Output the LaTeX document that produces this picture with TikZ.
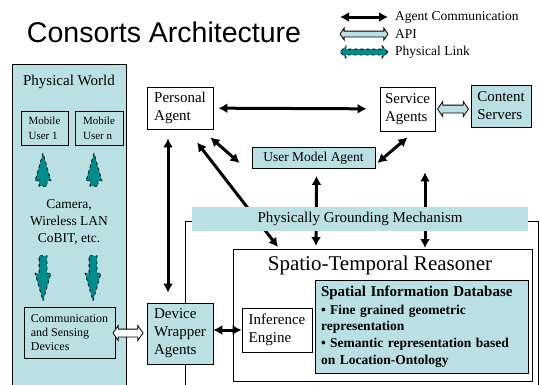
\documentclass[tikz,border=0pt]{standalone}
\usepackage{fontspec}
\setmainfont{Liberation Serif}
\newfontfamily\headfont{Liberation Sans}
\usetikzlibrary{
  calc,positioning,
  arrows.meta,shapes.arrows
}

\definecolor{paleteal}{RGB}{186,224,228}
\definecolor{linkteal}{RGB}{0,140,140}

\tikzset{
  box/.style={draw,fill=white,line width=0.8pt,align=left,inner sep=2pt,
    font=\fontsize{15}{18}\selectfont},
  tealbox/.style={box,fill=paleteal},
  legend/.style={anchor=west,inner sep=0pt,font=\fontsize{13.5}{16}\selectfont},
  agentlink/.style={line width=3pt,{Latex[length=9pt,width=10pt]}-{Latex[length=9pt,width=10pt]}},
  apilink/.style={double arrow,draw,fill=white,line width=0.8pt,inner sep=3.5pt,
    double arrow head extend=3.5pt,double arrow tip angle=110},
  physlink/.style={single arrow,draw,dashed,fill=linkteal,line width=0.8pt,
    inner sep=3.5pt,single arrow head extend=4pt,single arrow tip angle=32,
    minimum height=#1},
}

\begin{document}
\begin{tikzpicture}[x=1pt,y=-1pt]
\useasboundingbox (0,0) rectangle (540,384);

% heading and key
\node[font=\headfont\fontsize{28.5}{32}\selectfont] (title) at (164,32) {Consorts Architecture};
\coordinate (keyA) at (340,17);
\coordinate (keyB) at (388,17);
\draw[agentlink] (keyA) -- (keyB);
\node[legend] (keycomm) at (395,17) {Agent Communication};
\node[apilink,fill=paleteal,inner sep=2.5pt,double arrow head extend=3pt,
  minimum height=48pt] (keyapi) at (364,34) {};
\node[legend] (keyapitext) at (395,34) {API};
\node[double arrow,draw,dashed,fill=linkteal,line width=0.8pt,inner sep=2.5pt,
  double arrow head extend=3pt,minimum height=48pt] (keyphys) at (364,52) {};
\node[legend] (keyphystext) at (395,52) {Physical Link};

% physical world
\node[tealbox,minimum width=114pt,minimum height=330pt,anchor=north west] (world) at (12,64) {};
\node[font=\fontsize{15}{18}\selectfont] (worldtitle) at (69,82) {Physical World};
\node[tealbox,font=\fontsize{11}{15}\selectfont,minimum width=47pt,minimum height=34pt] (user1) at (44.5,128) {Mobile\\User 1};
\node[tealbox,font=\fontsize{11}{15}\selectfont,minimum width=48pt,minimum height=34pt] (usern) at (99,128) {Mobile\\User n};
\node[physlink=33pt,rotate=90] (up1) at (43,176.5) {};
\node[physlink=33pt,rotate=90] (upn) at (94,176.5) {};
\node[align=center,font=\fontsize{13.5}{16.7}\selectfont] (media) at (69,222) {Camera,\\Wireless LAN\\CoBIT, etc.};
\node[physlink=45pt,rotate=-90] (down1) at (43,271.5) {};
\node[physlink=45pt,rotate=-90] (downn) at (93,271.5) {};
\node[tealbox,font=\fontsize{12}{14.3}\selectfont,minimum width=91pt,minimum height=51pt] (sensing) at (69.5,332.5) {Communication\\and Sensing\\Devices};

\node[draw,line width=0.8pt,inner sep=0pt,minimum width=353pt,minimum height=180pt,anchor=north west] (grounding) at (185,221) {};

% agents
\node[box,minimum width=66pt,minimum height=42pt] (personal) at (180,108) {Personal\\Agent};
\node[box,minimum width=55pt,minimum height=44pt] (service) at (407.5,109) {Service\\Agents};
\node[tealbox,minimum width=60pt,minimum height=42pt] (content) at (501,106) {Content\\Servers};
\node[tealbox,font=\fontsize{13.5}{16}\selectfont,minimum width=123pt,minimum height=21pt] (usermodel) at (313.5,158) {User Model Agent};
\node[tealbox,minimum width=66pt,minimum height=61pt] (wrapper) at (180,333.5) {Device\\Wrapper\\Agents};

% reasoner
\node[box,minimum width=299pt,minimum height=132pt,anchor=north west] (reasoner) at (233,249) {};
\node[font=\fontsize{21}{24}\selectfont] (reasonertitle) at (380,265) {Spatio-Temporal Reasoner};
\node[box,minimum width=70pt,minimum height=44pt] (inference) at (277,330) {Inference\\Engine};
\node[tealbox,minimum width=213pt,minimum height=93pt,text width=201pt,inner xsep=6pt,
  font=\bfseries\fontsize{13.5}{16.7}\selectfont] (spatialdb) at (421.5,326.5)
  {{\fontsize{15}{18}\selectfont Spatial Information Database}\\[1pt]
   • Fine grained geometric\\ representation\\
   • Semantic representation based\\ on Location-Ontology};

\node[apilink,minimum height=30pt] (sensingapi) at ($(sensing.east)!0.5!(wrapper.west)+(-3,0)$) {};
\node[apilink,fill=paleteal,minimum height=31pt] (contentapi) at ($(service.east)!0.5!(content.west)+(0,1.5)$) {};

\draw[agentlink,shorten <=5pt,shorten >=13pt] (personal) -- (service);
\draw[agentlink] ([shift={(-3,8)}]personal.south east) -- ([shift={(-12,5)}]usermodel.west);
\draw[agentlink] ([shift={(0,6)}]service.south) -- ([shift={(2,5)}]usermodel.east);
\draw[agentlink] ([shift={(-12,9)}]personal.south) -- ([shift={(-12,-10)}]wrapper.north);
\draw[agentlink] ([shift={(17,13)}]personal.south) -- ([shift={(45,-2)}]reasoner.north west);
\draw[agentlink] ([shift={(3,7)}]usermodel.south) -- ([shift={(83,-3)}]reasoner.north west);
\draw[agentlink] ([shift={(17.5,41)}]service.south) -- ([shift={(192,-1)}]reasoner.north west);
\draw[agentlink] (wrapper.east |- inference.west) -- (inference.west);

\node[fill=paleteal,minimum width=336pt,minimum height=24pt,font=\fontsize{15}{18}\selectfont] (groundbar) at (360,219) {Physically Grounding Mechanism};
\end{tikzpicture}
\end{document}
